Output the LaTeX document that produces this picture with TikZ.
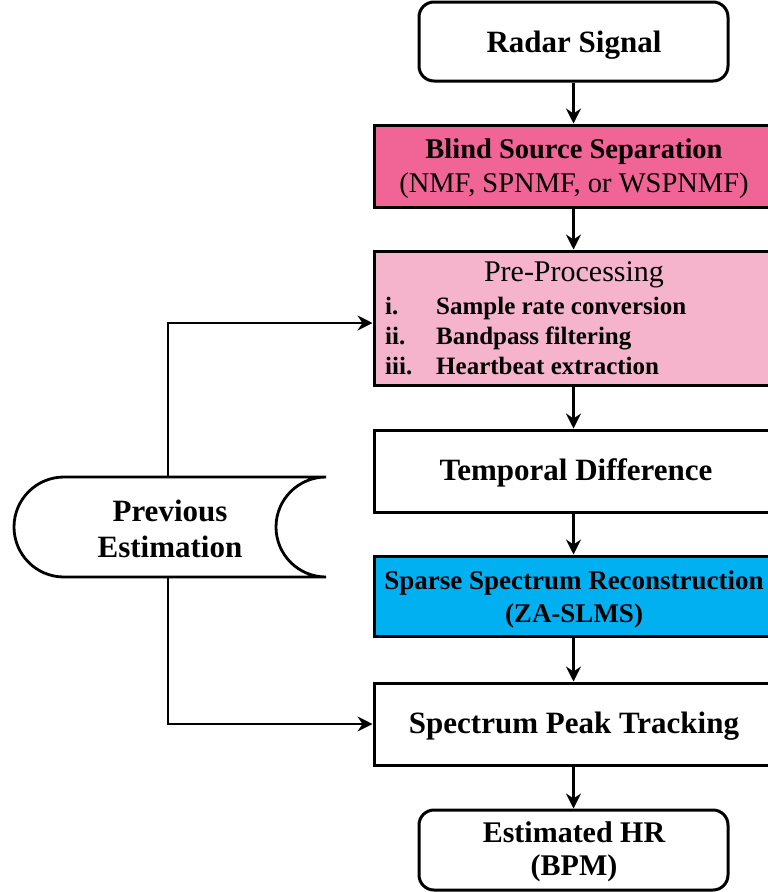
\documentclass[tikz,border=0pt]{standalone}
\usepackage{fontspec}
\setmainfont{Liberation Serif}
\usetikzlibrary{arrows.meta,calc}
\definecolor{bsspink}{RGB}{240,100,150}
\definecolor{prepink}{RGB}{245,180,204}
\definecolor{ssrblue}{RGB}{0,176,240}
\tikzset{
  procbox/.style={draw=black, line width=3pt, rectangle, minimum width=416pt, inner sep=0pt},
  termbox/.style={draw=black, line width=3pt, rectangle, rounded corners=15pt, minimum width=309pt, minimum height=79pt, inner sep=0pt},
  txt/.style={inner sep=0pt, align=center, font=\fontsize{31}{36}\selectfont\bfseries},
  item/.style={inner sep=0pt, anchor=base west, font=\fontsize{25}{30}\selectfont\bfseries},
  arr/.style={line width=2.8pt, -{Stealth[length=15pt,width=15pt,inset=5pt]}}
}
\begin{document}
\begin{tikzpicture}[x=1pt,y=1pt]
\useasboundingbox (0,0) rectangle (768,-892);
% terminals
\node[termbox] (rs) at (573.5,-41.5) {};
\node[txt] (rst) at (574,-45) {Radar Signal};
\node[termbox, minimum height=80pt] (hr) at (573.5,-850) {};
\node[txt, font=\fontsize{30}{33}\selectfont\bfseries] (hrt) at (574,-852) {Estimated HR\\(BPM)};
% process boxes
\node[procbox, fill=bsspink, minimum height=82pt] (bss) at (582,-166) {};
\node[txt, font=\fontsize{28.5}{34}\selectfont] (bsst) at (574,-169) {\bfseries Blind Source Separation\\\mdseries (NMF, SPNMF, or WSPNMF)};
\node[procbox, fill=prepink, minimum height=134pt] (pre) at (582,-318) {};
\node[txt, font=\fontsize{30}{34}\selectfont\mdseries] (pret) at (574,-275) {Pre-Processing};
\node[item] (pi1) at (385,-314) {i.};
\node[item] (pt1) at (436,-314) {Sample rate conversion};
\node[item] (pi2) at (385,-344) {ii.};
\node[item] (pt2) at (436,-344) {Bandpass filtering};
\node[item] (pi3) at (385,-374) {iii.};
\node[item] (pt3) at (436,-374) {Heartbeat extraction};
\node[procbox, minimum height=82pt] (td) at (582,-471) {};
\node[txt] (tdt) at (576,-473) {Temporal Difference};
\node[procbox, fill=ssrblue, minimum height=80pt] (ssr) at (582,-596) {};
\node[txt, font=\fontsize{27}{33}\selectfont\bfseries] (ssrt) at (574,-599) {Sparse Spectrum Reconstruction\\(ZA-SLMS)};
\node[procbox, minimum height=82pt] (spt) at (582,-724) {};
\node[txt] (sptt) at (574,-726) {Spectrum Peak Tracking};
% stored data: previous estimation
\draw[line width=2.8pt] (326,-477) -- (64,-477) arc[start angle=90, end angle=270, x radius=50, y radius=50] -- (326,-577) arc[start angle=270, end angle=90, x radius=50, y radius=50];
\node[txt] (prev) at (170,-529) {Previous\\Estimation};
\coordinate (ptop) at (168,-477);
\coordinate (pbot) at (168,-577);
% connectors
\draw[arr] (rs.south) -- (rs.south |- bss.north);
\draw[arr] (rs.south |- bss.south) -- (rs.south |- pre.north);
\draw[arr] (rs.south |- pre.south) -- (rs.south |- td.north);
\draw[arr] (rs.south |- td.south) -- (rs.south |- ssr.north);
\draw[arr] (rs.south |- ssr.south) -- (rs.south |- spt.north);
\draw[arr] (rs.south |- spt.south) -- (hr.north);
\draw[arr] (ptop) |- ([yshift=-5pt]pre.west);
\draw[arr] (pbot) |- (spt.west);
\end{tikzpicture}
\end{document}
